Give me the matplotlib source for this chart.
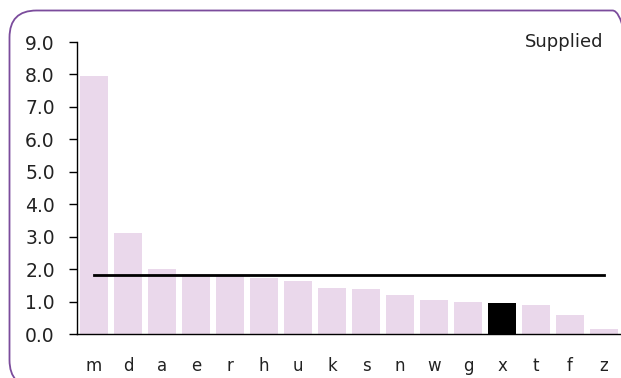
import numpy as np
import matplotlib.pyplot as plt
from matplotlib.patches import FancyBboxPatch
from matplotlib.transforms import IdentityTransform

# Категорії та значення
labels = ["m", "d", "a", "e", "r", "h", "u", "k", "s", "n", "w", "g", "x", "t", "f", "z"]
values = [7.96, 3.13, 2.01, 1.85, 1.80, 1.74, 1.65, 1.44, 1.40, 1.21, 1.06, 0.99, 0.95, 0.90, 0.59, 0.16]
highlight = "x"
supplied = 1.82
y_ticks = np.arange(0, 10, 1.0)


def main():
    fig = plt.figure(figsize=(6.21, 3.78), dpi=100)

    # Рамка з заокругленими кутами (у пікселях)
    frame = FancyBboxPatch((9.5, -9), 630, 9 + 378 - 10.5,
                           boxstyle="round,pad=0,rounding_size=27",
                           transform=IdentityTransform(), facecolor="none",
                           edgecolor="#7b4c9c", linewidth=1.3)
    fig.patches.append(frame)

    ax = fig.add_axes([77 / 621, 1 - 334.3 / 378, 1 - 77 / 621, (334.3 - 42) / 378])
    x = np.arange(len(labels))
    colors = ["black" if lab == highlight else "#ead8eb" for lab in labels]
    ax.bar(x, values, width=0.8, color=colors)

    ax.plot([x[0], x[-1]], [supplied, supplied], color="black", linewidth=2)

    ax.set_xlim(-0.5, len(labels) - 0.5)
    ax.set_ylim(0, 9)
    ax.set_yticks(y_ticks)
    ax.set_yticklabels([f"{v:.1f}" for v in y_ticks], fontsize=13.5, color="#222222")
    ax.set_xticks(x)
    ax.set_xticklabels(labels, fontsize=12, color="#222222")
    ax.tick_params(axis="x", length=0, pad=16)
    ax.tick_params(axis="y", length=6, width=1, pad=10)
    for side in ["top", "right"]:
        ax.spines[side].set_visible(False)
    ax.spines["left"].set_linewidth(1)
    ax.spines["bottom"].set_linewidth(1)

    fig.text(603 / 621, 1 - 42 / 378, "Supplied", ha="right", va="center",
             fontsize=13, color="#222222")

    fig.savefig("out.png", dpi=100)


if __name__ == "__main__":
    main()
